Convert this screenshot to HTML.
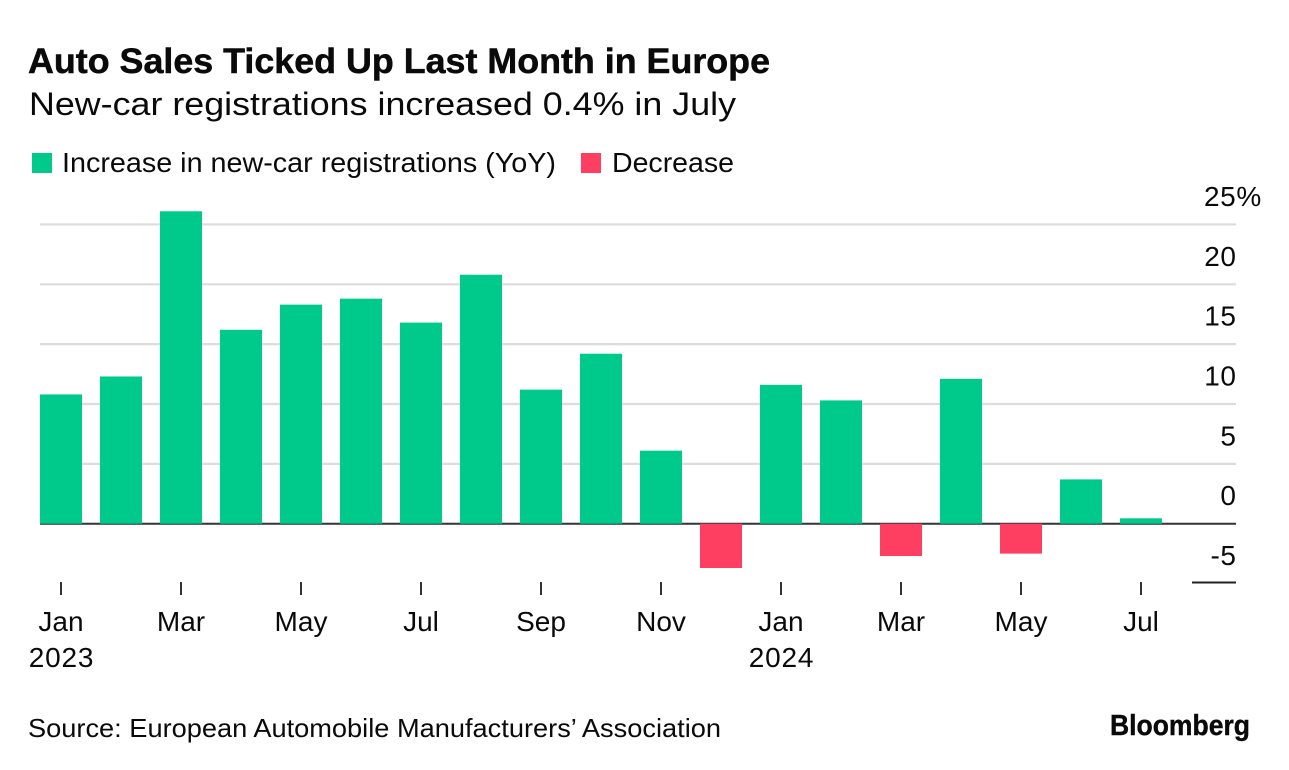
<!DOCTYPE html>
<html lang="en">
<head>
<meta charset="utf-8">
<title>Auto Sales Ticked Up Last Month in Europe</title>
<style>
html,body{margin:0;padding:0;background:#fff;width:1289px;height:770px;overflow:hidden}
svg{display:block}
text{font-family:"Liberation Sans",sans-serif;fill:#0a0a0a}
</style>
</head>
<body>
<svg id="chart" xmlns="http://www.w3.org/2000/svg" width="1289" height="770" viewBox="0 0 1289 770">
  <text x="28" y="73" font-size="35" font-weight="700" stroke="#0a0a0a" stroke-width="0.5" textLength="742" lengthAdjust="spacingAndGlyphs">Auto Sales Ticked Up Last Month in Europe</text>
  <text x="29" y="115" font-size="32" textLength="707" lengthAdjust="spacingAndGlyphs">New-car registrations increased 0.4% in July</text>
  <rect x="32" y="153" width="20" height="20" fill="#00c98c"/>
  <text x="62" y="172" font-size="28" textLength="494" lengthAdjust="spacingAndGlyphs">Increase in new-car registrations (YoY)</text>
  <rect x="581" y="153" width="20" height="20" fill="#ff3f62"/>
  <text x="612" y="172" font-size="28" textLength="122" lengthAdjust="spacingAndGlyphs">Decrease</text>
  <g id="plot"></g>
  <text x="28" y="737" font-size="26" textLength="693" lengthAdjust="spacingAndGlyphs">Source: European Automobile Manufacturers’ Association</text>
  <text x="1110" y="735" font-size="29" font-weight="700" stroke="#0a0a0a" stroke-width="0.4" textLength="140" lengthAdjust="spacingAndGlyphs">Bloomberg</text>
</svg>
<script>
const categories = ['Jan','Feb','Mar','Apr','May','Jun','Jul','Aug','Sep','Oct','Nov','Dec','Jan','Feb','Mar','Apr','May','Jun','Jul'];
const years = ['2023','','','','','','','','','','','','2024','','','','','',''];
const values = [10.8,12.3,26.1,16.2,18.3,18.8,16.8,20.8,11.2,14.2,6.1,-3.7,11.6,10.3,-2.7,12.1,-2.5,3.7,0.45];
const yTicks = [-5,0,5,10,15,20,25];
const yTickLabels = ['-5','0','5','10','15','20','25%'];

const NS = 'http://www.w3.org/2000/svg';
const plot = document.getElementById('plot');
const y = v => 523.7 - v * 11.97;
const x = i => 61 + i * 60;
const barWidth = 42;

function make(tag, attrs, text) {
  const el = document.createElementNS(NS, tag);
  for (const k in attrs) el.setAttribute(k, attrs[k]);
  if (text !== undefined) el.textContent = text;
  return el;
}

yTicks.forEach((t, i) => {
  if (t > 0) {
    const line = make('line', {x1: 40, x2: 1236, y1: y(t), y2: y(t), stroke: '#dcdcdc', 'stroke-width': 2.2});
    
    
    plot.appendChild(line);
  }
  const isLast = i === yTicks.length - 1;
  const label = make('text', {x: isLast ? 1204 : 1236.6, y: y(t) - 18.5, 'font-size': 28, 'text-anchor': isLast ? 'start' : 'end', 'letter-spacing': 0.6}, yTickLabels[i]);
  
  
  plot.appendChild(label);
});

const lowLine = make('line', {x1: 1192, x2: 1236, y1: y(-5) - 1, y2: y(-5) - 1, stroke: '#222', 'stroke-width': 2});


plot.appendChild(lowLine);

values.forEach((v, i) => {
  const bar = make('rect', {
    x: x(i) - barWidth / 2,
    y: v >= 0 ? y(v) : y(0),
    width: barWidth,
    height: Math.abs(y(v) - y(0)),
    fill: v >= 0 ? '#00c98c' : '#ff3f62'
  });
  
  
  plot.appendChild(bar);
});

const zeroLine = make('line', {x1: 40, x2: 1236, y1: y(0), y2: y(0), stroke: '#333', 'stroke-width': 2});


plot.insertBefore(zeroLine, plot.querySelector('rect'));

categories.forEach((c, i) => {
  if (i % 2 !== 0) return;
  const tick = make('line', {x1: x(i), x2: x(i), y1: 582, y2: 595, stroke: '#333', 'stroke-width': 2});
  
  
  plot.appendChild(tick);
  const label = make('text', {x: x(i), y: 631, 'font-size': 28, 'text-anchor': 'middle'}, c);
  
  
  plot.appendChild(label);
  if (years[i]) {
    const yearLabel = make('text', {x: x(i) + 0.5, y: 667, 'font-size': 28, 'text-anchor': 'middle', 'letter-spacing': 0.8}, years[i]);
    
    
    plot.appendChild(yearLabel);
  }
});
</script>
</body>
</html>
